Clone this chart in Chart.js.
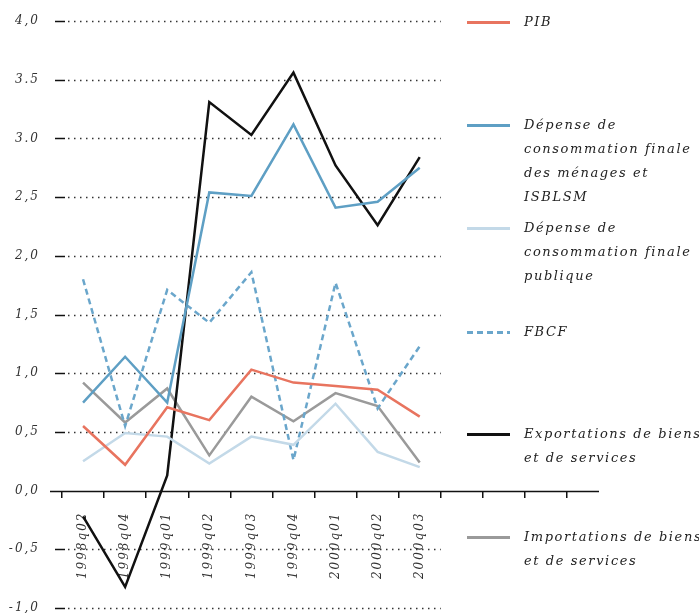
<!DOCTYPE html>
<html>
<head>
<meta charset="utf-8">
<script src="https://cdn.jsdelivr.net/npm/chart.js"></script>
<style>
  html, body { margin: 0; padding: 0; background: #fff; }
  #wrap { position: relative; width: 699px; height: 613px; }
  #chartLine { position: absolute; left: 0; top: 0; }
  .leg { position: absolute; left: 467px; width: 232px; height: 80px;
         font-family: "DejaVu Serif"; font-style: italic; font-size: 13px;
         letter-spacing: 1.6px; line-height: 24px; color: #222; }
  .leg .sw { position: absolute; left: 0; top: 11px; width: 43px; height: 3px; }
  .leg .txt { position: absolute; left: 57px; top: 0; white-space: nowrap; }
</style>
</head>
<body>
<div id="wrap">
  <canvas id="chartLine" width="699" height="613"></canvas>
  <div class="leg" style="top:10px"><div class="sw" style="background:#e8745f"></div><div class="txt">PIB</div></div>
  <div class="leg" style="top:113px"><div class="sw" style="background:#5e9fc4"></div><div class="txt">Dépense de<br>consommation finale<br>des ménages et<br>ISBLSM</div></div>
  <div class="leg" style="top:216px"><div class="sw" style="background:#c3d9e8"></div><div class="txt">Dépense de<br>consommation finale<br>publique</div></div>
  <div class="leg" style="top:320px"><div class="sw" style="background:repeating-linear-gradient(to right,#6aa6cb 0 6px,transparent 6px 10px)"></div><div class="txt">FBCF</div></div>
  <div class="leg" style="top:422px"><div class="sw" style="background:#111"></div><div class="txt">Exportations de biens<br>et de services</div></div>
  <div class="leg" style="top:525px"><div class="sw" style="background:#9a9a9a"></div><div class="txt">Importations de biens<br>et de services</div></div>
</div>
<script>
// categories (last three slots are empty on the original axis)
const labels = ['1998q02', '1998q04', '1999q01', '1999q02', '1999q03', '1999q04', '2000q01', '2000q02', '2000q03', '', '', ''];

const pib        = [0.55, 0.22, 0.71, 0.60, 1.03, 0.92, 0.89, 0.86, 0.63];
const menages    = [0.75, 1.14, 0.75, 2.54, 2.51, 3.12, 2.41, 2.46, 2.75];
const publique   = [0.25, 0.49, 0.46, 0.23, 0.46, 0.39, 0.74, 0.33, 0.20];
const fbcf       = [1.80, 0.55, 1.71, 1.43, 1.86, 0.26, 1.77, 0.70, 1.23];
const exportsB   = [-0.22, -0.82, 0.13, 3.31, 3.03, 3.56, 2.77, 2.26, 2.84];
const importsB   = [0.92, 0.58, 0.87, 0.30, 0.80, 0.59, 0.83, 0.72, 0.24];

// y tick labels as printed on the original
const yTickValues = [4, 3.5, 3, 2.5, 2, 1.5, 1, 0.5, 0, -0.5, -1];
const yTickLabels = ['4,0', '3.5', '3.0', '2,5', '2,0', '1,5', '1,0', '0,5', '0,0', '-0,5', '-1,0'];

const spacing = {
  id: 'spacing',
  beforeLayout(chart) { chart.ctx.letterSpacing = '2px'; },
  beforeDraw(chart) { chart.ctx.letterSpacing = '2px'; }
};

const gridDots = {
  id: 'gridDots',
  beforeDatasetsDraw(chart) {
    const ctx = chart.ctx;
    const x = chart.scales.x;
    const y = chart.scales.y;
    const step = x.getPixelForValue(1) - x.getPixelForValue(0);
    const xEnd = x.getPixelForValue(8) + step / 2;
    ctx.save();
    yTickValues.forEach(v => {
      if (v === 0) return;
      const py = Math.round(y.getPixelForValue(v)) + 0.5;
      ctx.setLineDash([]);
      ctx.strokeStyle = '#111';
      ctx.lineWidth = 1.5;
      ctx.beginPath();
      ctx.moveTo(x.left - 7, py);
      ctx.lineTo(x.left + 3, py);
      ctx.stroke();
      ctx.setLineDash([1.5, 4.5]);
      ctx.strokeStyle = '#333';
      ctx.lineWidth = 1.3;
      ctx.beginPath();
      ctx.moveTo(x.left + 6, py);
      ctx.lineTo(xEnd, py);
      ctx.stroke();
    });
    // zero axis, longer than the category range
    const p0 = Math.round(y.getPixelForValue(0)) + 0.5;
    ctx.setLineDash([]);
    ctx.strokeStyle = '#111';
    ctx.lineWidth = 1.5;
    ctx.beginPath();
    ctx.moveTo(x.left - 12, p0);
    ctx.lineTo(x.right + 32, p0);
    ctx.stroke();
    ctx.restore();
  }
};

function line(label, data, color, width, dash) {
  return {
    label: label,
    data: data,
    borderColor: color,
    backgroundColor: color,
    borderWidth: width,
    borderDash: dash || [],
    pointRadius: 0,
    tension: 0,
    fill: false
  };
}

Chart.defaults.font.family = '"DejaVu Serif"';
Chart.defaults.font.style = 'italic';
Chart.defaults.color = '#333';

const data = {
  labels: labels,
  datasets: [
    line('PIB', pib, '#e8745f', 2.5),
    line('Dépense de consommation finale des ménages et ISBLSM', menages, '#5e9fc4', 2.5),
    line('Dépense de consommation finale publique', publique, '#c3d9e8', 2.5),
    line('FBCF', fbcf, '#6aa6cb', 2.5, [6, 4]),
    line('Exportations de biens et de services', exportsB, '#111111', 2.5),
    line('Importations de biens et de services', importsB, '#9a9a9a', 2.5)
  ]
};

const configLineChart = {
  type: 'line',
  data,
  options: {
    responsive: false,
    animation: false,
    layout: { padding: { top: 21, bottom: 5, left: 0, right: 132 } },
    plugins: { legend: { display: false }, tooltip: { enabled: false } },
    scales: {
      x: {
        type: 'category',
        position: { y: 0 },
        offset: true,
        border: { display: false },
        grid: { offset: true, drawOnChartArea: false, drawTicks: true, tickLength: 7, color: '#111', lineWidth: 1.5 },
        ticks: { autoSkip: false, minRotation: 90, maxRotation: 90, padding: 14, font: { size: 12 }, color: '#333' }
      },
      y: {
        min: -1,
        max: 4,
        border: { display: false },
        grid: { display: false, drawTicks: false },
        afterFit(scale) { scale.width = 62; scale.paddingTop = 0; scale.paddingBottom = 0; },
        afterBuildTicks(scale) { scale.ticks = yTickValues.map(v => ({ value: v })); },
        ticks: {
          padding: 22,
          font: { size: 12 },
          color: '#333',
          callback: v => yTickLabels[yTickValues.indexOf(v)]
        }
      }
    }
  },
  plugins: [spacing, gridDots]
};

var chartLine = new Chart(document.getElementById('chartLine'), configLineChart);
</script>
</body>
</html>
